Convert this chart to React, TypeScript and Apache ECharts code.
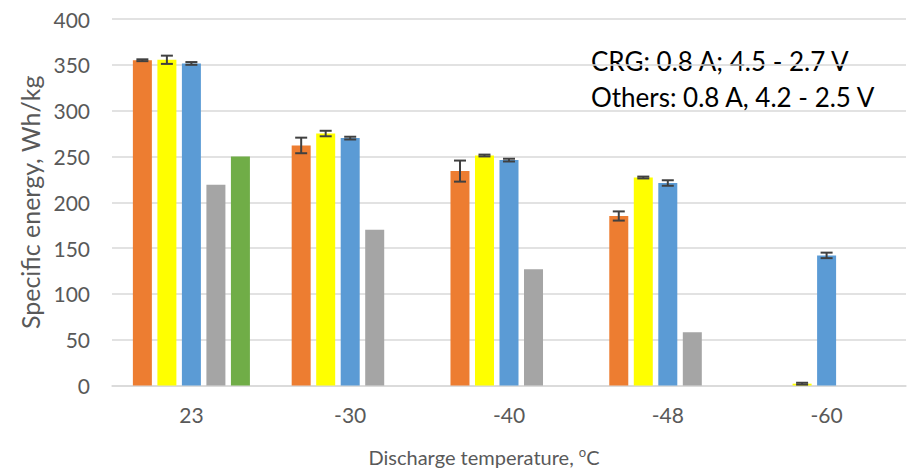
import React, { useEffect, useRef } from "react";
import * as echarts from "echarts";

const categories = ["23", "-30", "-40", "-48", "-60"];
const yTicks = { min: 0, max: 400, interval: 50 };

const orangeValues = [355, 262, 234, 185, null];
const orangeErrors = [1, 8.5, 11.5, 5, 0];
const yellowValues = [355.5, 275, 251, 227, 2];
const yellowErrors = [4.5, 3, 1, 1, 1];
const blueValues = [351.5, 270, 246, 221, 142];
const blueErrors = [1.5, 1.5, 1.5, 3, 3];
const grayValues = [219, 170, 127, 58, null];
const greenValues = [250, null, null, null, null];

const noteLines = ["CRG: 0.8 A; 4.5 - 2.7 V", "Others: 0.8 A, 4.2 - 2.5 V"];

const colors = ["#ED7D31", "#FFFF00", "#5B9BD5", "#A5A5A5", "#70AD47"];
const FONT = "Lato, 'Open Sans', sans-serif";
const BAR_W = 19;
const BAR_GAP = 0.29;

export default function App() {
  const ref = useRef<HTMLDivElement>(null);
  useEffect(() => {
    if (!ref.current) return;
    const chart = echarts.init(ref.current, undefined, { renderer: "svg" });
    const seriesValues = [orangeValues, yellowValues, blueValues, grayValues, greenValues];
    const seriesErrors = [orangeErrors, yellowErrors, blueErrors, null, null];
    const errData: number[][] = [];
    seriesErrors.forEach((errs, s) => {
      if (!errs) return;
      errs.forEach((e, ci) => {
        const v = seriesValues[s][ci];
        if (v != null && e > 0) errData.push([ci, v as number, e, s]);
      });
    });
    const pitch = BAR_W * (1 + BAR_GAP);
    const option: any = {
      animation: false,
      backgroundColor: "#fff",
      grid: { left: 112, right: 7, top: 19, bottom: 85, containLabel: false },
      xAxis: {
        type: "category",
        data: categories,
        axisLine: { lineStyle: { color: "#d9d9d9", width: 1.5 } },
        axisTick: { show: false },
        axisLabel: { color: "#595959", fontSize: 21, fontFamily: FONT, margin: 18 },
        name: "Discharge temperature, {sup|o}C",
        nameLocation: "middle",
        nameGap: 60,
        nameTextStyle: {
          color: "#595959",
          fontSize: 20,
          fontFamily: FONT,
          padding: [0, 50, 0, 0],
          rich: { sup: { fontSize: 13, verticalAlign: "top", color: "#595959", fontFamily: FONT, padding: [0, 0, 10, 0] } },
        },
      },
      yAxis: {
        type: "value",
        min: yTicks.min,
        max: yTicks.max,
        interval: yTicks.interval,
        axisLine: { show: false },
        axisTick: { show: false },
        splitLine: { lineStyle: { color: "#d9d9d9", width: 1.5 } },
        axisLabel: { color: "#595959", fontSize: 21, fontFamily: FONT, margin: 22 },
        name: "Specific energy, Wh/kg",
        nameLocation: "middle",
        nameGap: 68,
        nameTextStyle: { color: "#595959", fontSize: 25, fontFamily: FONT },
      },
      series: [
        ...seriesValues.map((vals, i) => ({
          type: "bar",
          data: vals,
          barWidth: BAR_W,
          barGap: `${BAR_GAP * 100}%`,
          itemStyle: { color: colors[i] },
        })),
        {
          type: "custom",
          data: errData,
          encode: { x: 0, y: 1 },
          z: 10,
          renderItem: (params: any, api: any) => {
            const ci = api.value(0);
            const v = api.value(1);
            const e = api.value(2);
            const s = api.value(3);
            const top = api.coord([ci, v + e]);
            const bot = api.coord([ci, v - e]);
            const x = top[0] + (s - 2) * pitch;
            const half = 6;
            const style = { stroke: "#404040", lineWidth: 2 };
            return {
              type: "group",
              children: [
                { type: "line", shape: { x1: x, y1: top[1], x2: x, y2: bot[1] }, style },
                { type: "line", shape: { x1: x - half, y1: top[1], x2: x + half, y2: top[1] }, style },
                { type: "line", shape: { x1: x - half, y1: bot[1], x2: x + half, y2: bot[1] }, style },
              ],
            };
          },
        },
      ],
      graphic: noteLines.map((t, i) => ({
        type: "text",
        x: 591,
        y: 61 + i * 36,
        style: { text: t, fill: "#000", fontSize: 26, fontFamily: FONT, verticalAlign: "middle", align: "left" },
      })),
    };
    chart.setOption(option);
    return () => chart.dispose();
  }, []);
  return <div ref={ref} style={{ position: "fixed", left: 0, top: 0, width: 913, height: 472 }} />;
}
